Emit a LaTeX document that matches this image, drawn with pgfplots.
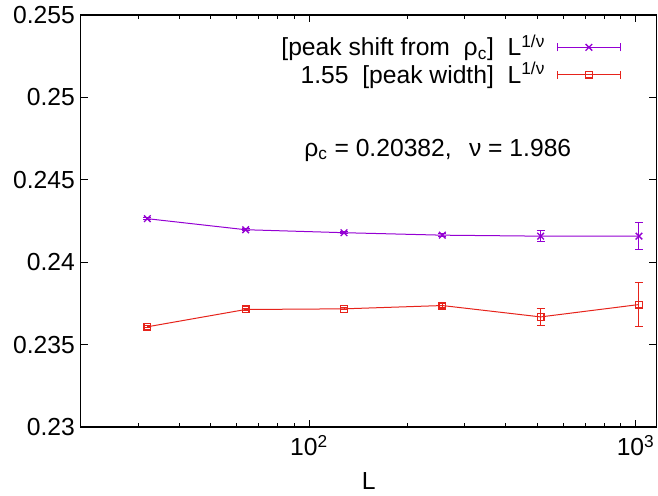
\documentclass[border=0pt]{standalone}
\usepackage{pgfplots}
\pgfplotsset{compat=1.18}
\usepackage{pgfplotstable}
\usepackage{fontspec}
\setmainfont{Liberation Sans}
\definecolor{gpurple}{HTML}{9400D3}
\definecolor{gred}{HTML}{E6231B}
\pgfplotstableread{
L v e
32 0.24264 0.00005
64 0.24197 0.00006
128 0.24179 0.00006
256 0.24164 0.00008
512 0.24158 0.00035
1024 0.24158 0.00083
}\shifttab
\pgfplotstableread{
L v e
32 0.23608 0.00005
64 0.23713 0.00006
128 0.23717 0.00006
256 0.23737 0.00010
512 0.23668 0.00053
1024 0.23743 0.00134
}\widthtab
\newcommand{\fs}{\fontsize{18.5}{21}\selectfont}
\begin{document}
\fs
\begin{tikzpicture}[font=\fs]
\useasboundingbox (-60.5pt,-51.75pt) rectangle (433pt,320.25pt);
\begin{axis}[
  at={(0pt,0pt)}, anchor=south west, scale only axis,
  width=432pt, height=309pt,
  xmode=log, xmin=20, xmax=1160, ymin=0.23, ymax=0.255,
  xtick={100,1000}, xticklabels={10\textsuperscript{2},10\textsuperscript{3}},
  minor xtick={20,30,40,50,60,70,80,90,200,300,400,500,600,700,800,900},
  ytick={0.23,0.235,0.24,0.245,0.25,0.255},
  yticklabels={0.23,0.235,0.24,0.245,0.25,0.255},
  tick align=inside,
  major tick length=5.5pt, minor tick length=3pt,
  axis line style={line width=1pt},
  every tick/.style={black, line width=0.6pt},
  tick label style={font=\fs},
  yticklabel style={xshift=2pt},
  xlabel={L}, label style={font=\fs},
  xlabel style={yshift=-6pt, inner sep=0pt},
  legend style={draw=none, fill=none, at={(0.945,0.965)}, anchor=north east,
    cells={anchor=east}, font=\fs, row sep=-2pt, column sep=7pt},
  legend plot pos=right,
  legend image code/.code={
    \draw[mark repeat=2, mark phase=2] plot coordinates {(0pt,0pt) (23.5pt,0pt) (47pt,0pt)};
    \draw[mark=none] (0pt,-3pt) -- (0pt,3pt) (47pt,-3pt) -- (47pt,3pt);
  },
]
\addplot[color=gpurple, mark=x, mark size=3.5pt, line width=0.75pt,
  mark options={line width=1pt},
  error bars/.cd, y dir=both, y explicit,
  error bar style={line width=0.75pt},
  error mark options={rotate=90, mark size=3pt, line width=0.75pt}]
  table[x=L, y=v, y error=e] {\shifttab};
\addlegendentry{[peak shift from\ \ ρ\textsubscript{c}]\ \ L\textsuperscript{1/ν}}
\addplot[color=gred, mark=square, mark size=2.5pt, line width=0.75pt,
  mark options={line width=1pt},
  error bars/.cd, y dir=both, y explicit,
  error bar style={line width=0.75pt},
  error mark options={rotate=90, mark size=3pt, line width=0.75pt}]
  table[x=L, y=v, y error=e] {\widthtab};
\addlegendentry{1.55\ \ [peak width]\ \ L\textsuperscript{1/ν}}
\node at (rel axis cs:0.62,0.672) {ρ\textsubscript{c} = 0.20382,\hspace{0.7em}ν = 1.986};
\end{axis}
\end{tikzpicture}
\end{document}
